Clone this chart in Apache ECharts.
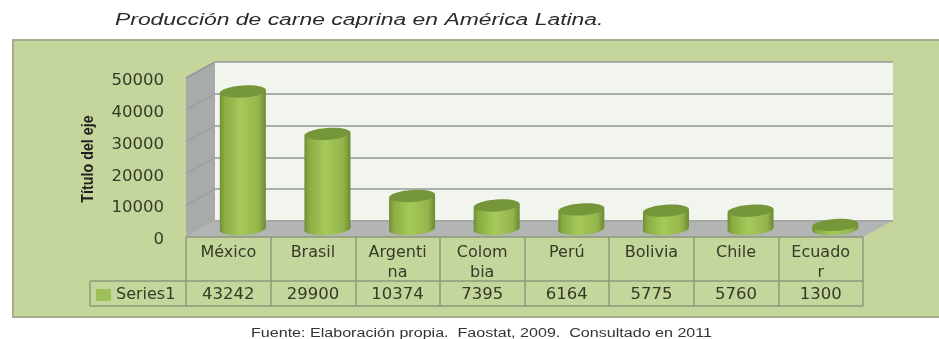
<!DOCTYPE html>
<html>
<head>
<meta charset="utf-8">
<style>html,body{margin:0;padding:0;background:#fff}#c{width:939px;height:339px}</style>
<script src="https://cdn.jsdelivr.net/npm/echarts@6/dist/echarts.min.js"></script>
</head>
<body>
<div id="c"></div>
<script>
const categories = ['México', 'Brasil', 'Argenti\nna', 'Colom\nbia', 'Perú', 'Bolivia', 'Chile', 'Ecuado\nr'];
const values = [43242, 29900, 10374, 7395, 6164, 5775, 5760, 1300];
const valueTicks = [0, 10000, 20000, 30000, 40000, 50000];
const seriesName = 'Series1';

// Oblique depth of the 3D box, in pixels
const DEPTH_X = 29, DEPTH_Y = 16;
const FONT = '"DejaVu Sans", sans-serif';
const INK = '#323c27';
const RULE = '#8b9a78';
const tiltRad = 0.07;

const chart = echarts.init(document.getElementById('c'), null, { renderer: 'canvas' });

// Walls and floor of the box, hung off the value axis scale
function renderBox(params, api) {
  const band = api.size([1, 0])[0];
  const at = (i, v) => api.coord([i, v]);
  const f0 = [at(0, 0)[0] - band / 2, at(0, 0)[1]];
  const f1 = [at(7, 0)[0] + band / 2, at(7, 0)[1]];
  const top = [f0[0], at(0, 50000)[1]];
  const d = (p) => [p[0] + DEPTH_X, p[1] - DEPTH_Y];
  const children = [
    { type: 'polygon', shape: { points: [f0, d(f0), d(top), top] }, style: { fill: '#a7abaa' } },
    { type: 'polygon', shape: { points: [f0, f1, d(f1), d(f0)] }, style: { fill: '#b3b5b4' } },
    { type: 'line', shape: { x1: f0[0], y1: f0[1], x2: f1[0], y2: f1[1] }, style: { stroke: RULE, lineWidth: 1.5 } },
    { type: 'line', shape: { x1: d(f0)[0], y1: d(f0)[1], x2: d(f1)[0], y2: d(f1)[1] }, style: { stroke: '#9a9d9a', lineWidth: 1 } },
    { type: 'line', shape: { x1: top[0], y1: top[1], x2: d(top)[0], y2: d(top)[1] }, style: { stroke: '#93989a', lineWidth: 1.5 } }
  ];
  valueTicks.slice(1, -1).forEach((v) => {
    const p = [f0[0], at(0, v)[1]];
    children.push({ type: 'line', shape: { x1: p[0], y1: p[1], x2: d(p)[0], y2: d(p)[1] }, style: { stroke: '#93989a', lineWidth: 1 } });
  });
  return { type: 'group', children };
}

// A tilted-ellipse cylinder standing on the middle of the floor
function renderCylinder(params, api) {
  const idx = api.value(0);
  const base = api.coord([idx, 0]);
  const head = api.coord([idx, api.value(1)]);
  const rx = api.size([1, 0])[0] * 0.272;
  const ry = 6;
  const cx = base[0] + DEPTH_X / 2;
  const yb = base[1] - DEPTH_Y / 2;
  const yt = head[1] - DEPTH_Y / 2;
  const t = rx * Math.sin(tiltRad);
  const body = new echarts.graphic.LinearGradient(0, 0, 1, 0, [
    { offset: 0, color: '#6f8f35' },
    { offset: 0.1, color: '#8aac42' },
    { offset: 0.45, color: '#a6ca5a' },
    { offset: 0.85, color: '#93b44a' },
    { offset: 1, color: '#6a8a32' }
  ]);
  const disc = (y, fill) => ({
    type: 'ellipse', x: cx, y, rotation: tiltRad, originX: 0, originY: 0,
    shape: { cx: 0, cy: 0, rx, ry }, style: { fill }
  });
  return {
    type: 'group',
    children: [
      disc(yb, body),
      { type: 'polygon', shape: { points: [[cx - rx, yt + t], [cx + rx, yt - t], [cx + rx, yb - t], [cx - rx, yb + t]] }, style: { fill: body } },
      disc(yt, '#76963a')
    ]
  };
}

chart.setOption({
  animation: false,
  backgroundColor: '#ffffff',
  graphic: [
    { type: 'rect', z: -10, shape: { x: 13, y: 40, width: 930, height: 277 },
      style: { fill: '#c5d69c', stroke: '#a3ae8e', lineWidth: 2 } },
    // Caption and source line, widened to sit across the chart
    { type: 'text', x: 115, y: 21, scaleX: 1.43, z: 5,
      style: { text: 'Producción de carne caprina en América Latina.', fill: '#2b2b2b',
        font: 'italic 16px "Liberation Sans"', verticalAlign: 'middle' } },
    { type: 'text', x: 251, y: 334, scaleX: 1.34, z: 5,
      style: { text: 'Fuente: Elaboración propia.  Faostat, 2009.  Consultado en 2011', fill: '#333333',
        font: '12px "Liberation Sans"', verticalAlign: 'middle' } },
    // Value axis title, condensed along its length
    { type: 'text', x: 88, y: 159, rotation: Math.PI / 2, scaleX: 0.84, z: 5,
      style: { text: 'Título del eje', fill: '#1f1f1f', font: 'bold 17px "Liberation Sans"',
        align: 'center', verticalAlign: 'middle' } },
    // Table rules that run under the category labels
    { type: 'line', z: 5, shape: { x1: 90, y1: 306, x2: 863, y2: 306 }, style: { stroke: RULE, lineWidth: 1.5 } },
    { type: 'line', z: 5, shape: { x1: 90, y1: 281, x2: 863, y2: 281 }, style: { stroke: RULE, lineWidth: 1.5 } },
    { type: 'line', z: 5, shape: { x1: 90, y1: 281, x2: 90, y2: 306 }, style: { stroke: RULE, lineWidth: 1.5 } }
  ],
  legend: {
    left: 96, top: 287, itemWidth: 15, itemHeight: 12, itemGap: 5, padding: 0,
    icon: 'rect',
    data: [{ name: seriesName, itemStyle: { color: '#9dbf55' } }],
    textStyle: { fontFamily: FONT, fontSize: 16, color: INK }
  },
  grid: [
    { left: 186, width: 677, top: 78, height: 159 },
    { left: 215, width: 678, top: 62, height: 159, show: true, backgroundColor: '#f1f5ee', borderWidth: 0 }
  ],
  xAxis: [
    { type: 'category', gridIndex: 0, data: categories, boundaryGap: true,
      axisLine: { show: false },
      axisTick: { show: true, inside: false, length: 69, lineStyle: { color: RULE, width: 1.5 } },
      axisLabel: { interval: 0, margin: 6, fontFamily: FONT, fontSize: 16, lineHeight: 20, color: INK, verticalAlign: 'top' } },
    { type: 'category', gridIndex: 0, position: 'bottom', offset: 44, data: values.map(String),
      axisLine: { show: false }, axisTick: { show: false },
      axisLabel: { interval: 0, margin: 5, fontFamily: FONT, fontSize: 16.5, color: INK, verticalAlign: 'top' } },
    { type: 'category', gridIndex: 1, data: categories, show: false }
  ],
  yAxis: [
    { type: 'value', gridIndex: 0, min: 0, max: 50000, interval: 10000,
      axisLine: { show: false }, axisTick: { show: false }, splitLine: { show: false },
      axisLabel: { margin: 22, verticalAlign: 'top', lineHeight: 6, formatter: (v) => String(v), fontFamily: FONT, fontSize: 16.5, color: INK } },
    { type: 'value', gridIndex: 1, min: 0, max: 50000, interval: 10000,
      axisLine: { show: false }, axisTick: { show: false }, axisLabel: { show: false },
      splitLine: { show: true, lineStyle: { color: '#93989a', width: 1.5 } } }
  ],
  series: [
    { type: 'custom', name: 'box', xAxisIndex: 0, yAxisIndex: 0, data: [[0, 0]], renderItem: renderBox, silent: true, z: 2 },
    { type: 'custom', name: seriesName, xAxisIndex: 0, yAxisIndex: 0, z: 3,
      itemStyle: { color: '#9dbf55' },
      encode: { x: 0, y: 1 },
      data: values.map((v, i) => [i, v]), renderItem: renderCylinder }
  ]
});
</script>
</body>
</html>
